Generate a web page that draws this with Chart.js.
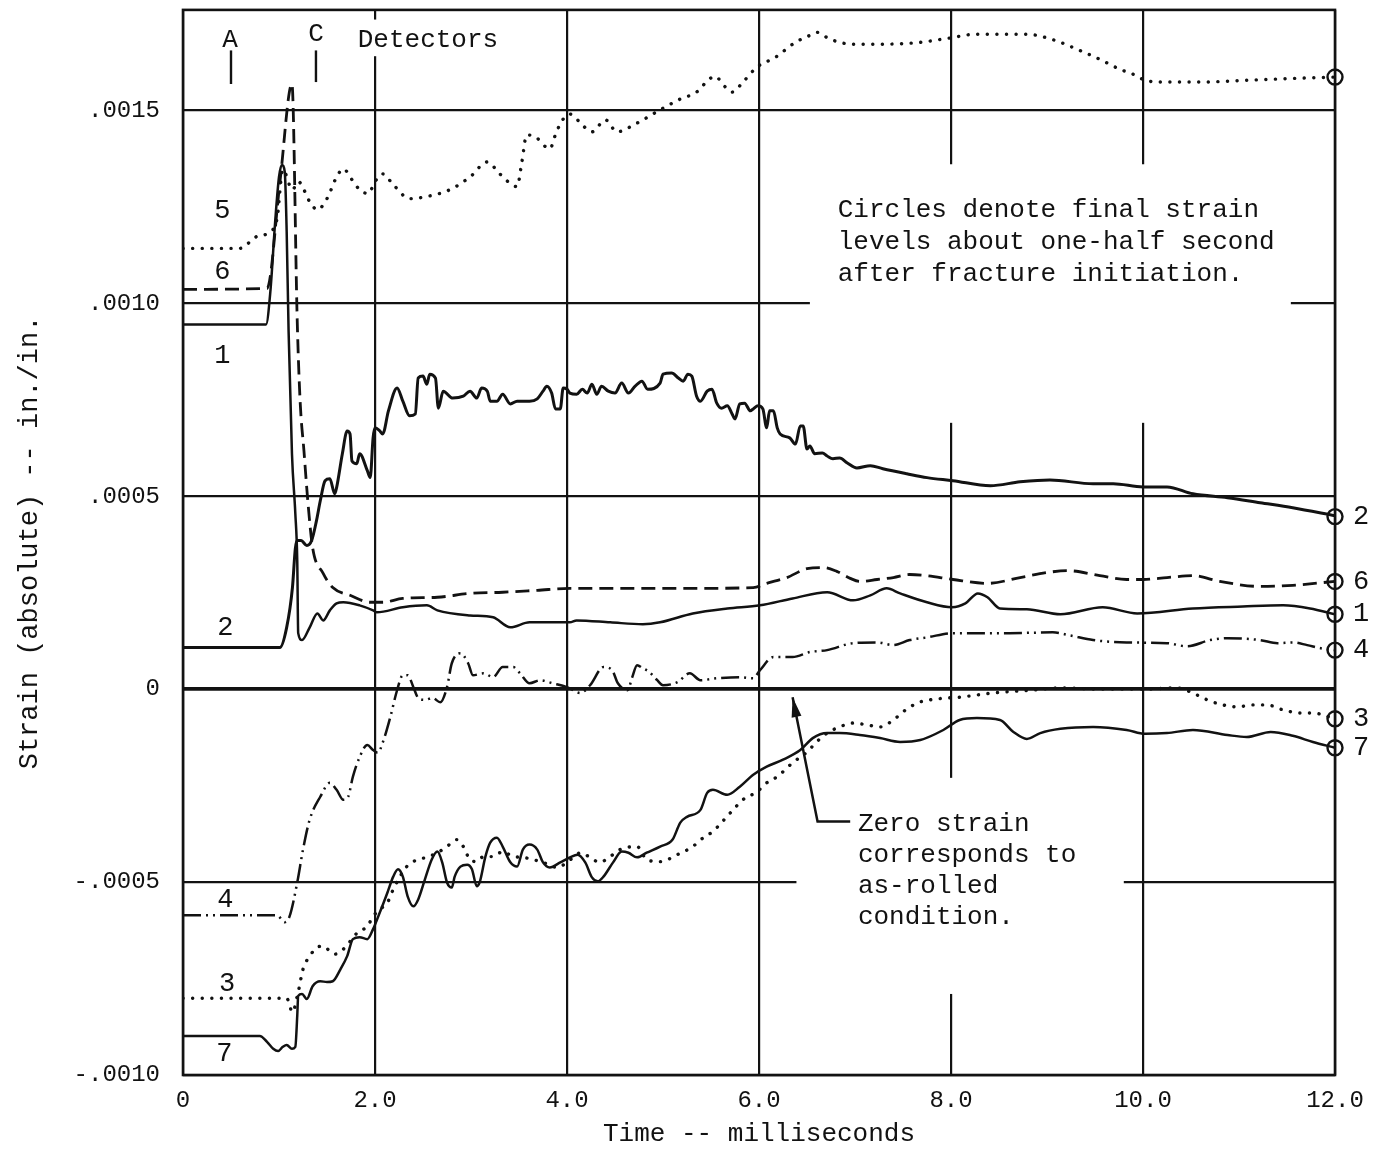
<!DOCTYPE html>
<html>
<head>
<meta charset="utf-8">
<title>Strain vs time</title>
<script src="https://cdn.jsdelivr.net/npm/chart.js@4.4.1/dist/chart.umd.min.js"></script>
<style>
  html, body { margin: 0; padding: 0; background: #fff; }
  canvas { display: block; }
</style>
</head>
<body>
<canvas id="strainChart" width="1373" height="1150"></canvas>
<script>
// Axis ticks
const xTickValues = [0, 2, 4, 6, 8, 10, 12];
const xTickLabels = ['0', '2.0', '4.0', '6.0', '8.0', '10.0', '12.0'];
const yTickValues = [-0.0010, -0.0005, 0, 0.0005, 0.0010, 0.0015];
const yTickLabels = ['-.0010', '-.0005', '0', '.0005', '.0010', '.0015'];

// Gauge records: [time (ms), strain (in./in.)]
const gauge1 = [[0,9.45e-4],[0.865,9.45e-4],[0.91,10.30e-4],[0.96,12.11e-4],[1.00,13.27e-4],[1.03,13.58e-4],[1.06,13.40e-4],[1.08,11.85e-4],[1.10,9.27e-4],[1.135,6.10e-4],[1.17,4.55e-4],[1.19,3.33e-4],[1.20,1.45e-4],[1.24,1.27e-4],[1.32,1.60e-4],[1.40,1.96e-4],[1.46,1.78e-4],[1.53,2.04e-4],[1.60,2.22e-4],[1.67,2.25e-4],[1.84,2.17e-4],[1.98,2.04e-4],[2.02,1.99e-4],[2.29,2.12e-4],[2.54,2.17e-4],[2.65,2.04e-4],[2.99,1.91e-4],[3.23,1.86e-4],[3.41,1.60e-4],[3.61,1.73e-4],[3.85,1.73e-4],[4.03,1.73e-4],[4.10,1.78e-4],[4.45,1.73e-4],[4.79,1.68e-4],[4.97,1.73e-4],[5.31,1.96e-4],[5.67,2.09e-4],[6.01,2.17e-4],[6.35,2.35e-4],[6.71,2.51e-4],[6.98,2.30e-4],[7.16,2.43e-4],[7.33,2.61e-4],[7.47,2.48e-4],[7.75,2.25e-4],[8.01,2.12e-4],[8.15,2.22e-4],[8.28,2.48e-4],[8.38,2.38e-4],[8.51,2.09e-4],[8.79,2.07e-4],[9.14,1.94e-4],[9.58,2.12e-4],[9.94,1.96e-4],[10.52,2.09e-4],[11.04,2.14e-4],[11.46,2.17e-4],[11.74,2.09e-4],[12.0,1.94e-4]];

const gauge2 = [[0,1.08e-4],[1.01,1.08e-4],[1.08,1.60e-4],[1.14,2.63e-4],[1.17,3.64e-4],[1.19,3.85e-4],[1.23,3.85e-4],[1.29,3.72e-4],[1.34,3.85e-4],[1.39,4.36e-4],[1.43,4.88e-4],[1.48,5.40e-4],[1.53,5.45e-4],[1.58,5.06e-4],[1.60,5.22e-4],[1.66,6.10e-4],[1.71,6.69e-4],[1.74,6.61e-4],[1.76,5.91e-4],[1.81,5.84e-4],[1.84,6.10e-4],[1.92,5.66e-4],[1.95,5.48e-4],[1.98,6.51e-4],[2.00,6.77e-4],[2.05,6.69e-4],[2.08,6.61e-4],[2.14,7.21e-4],[2.23,7.80e-4],[2.29,7.46e-4],[2.36,7.08e-4],[2.42,7.13e-4],[2.45,8.06e-4],[2.50,8.11e-4],[2.54,7.90e-4],[2.57,8.16e-4],[2.63,8.06e-4],[2.66,7.28e-4],[2.71,7.72e-4],[2.81,7.54e-4],[2.92,7.59e-4],[2.99,7.72e-4],[3.06,7.54e-4],[3.11,7.80e-4],[3.17,7.72e-4],[3.20,7.46e-4],[3.27,7.46e-4],[3.33,7.64e-4],[3.41,7.39e-4],[3.48,7.46e-4],[3.61,7.46e-4],[3.69,7.52e-4],[3.75,7.72e-4],[3.79,7.85e-4],[3.84,7.67e-4],[3.88,7.26e-4],[3.93,7.26e-4],[3.96,7.80e-4],[4.00,7.77e-4],[4.03,7.67e-4],[4.10,7.64e-4],[4.16,7.77e-4],[4.21,7.67e-4],[4.26,7.90e-4],[4.31,7.64e-4],[4.36,7.85e-4],[4.43,7.72e-4],[4.50,7.67e-4],[4.57,7.93e-4],[4.64,7.67e-4],[4.71,7.85e-4],[4.78,7.98e-4],[4.84,7.77e-4],[4.97,7.93e-4],[5.00,8.16e-4],[5.09,8.19e-4],[5.16,8.06e-4],[5.21,7.98e-4],[5.26,8.16e-4],[5.30,8.11e-4],[5.35,7.59e-4],[5.39,7.46e-4],[5.46,7.72e-4],[5.51,7.77e-4],[5.56,7.41e-4],[5.61,7.28e-4],[5.67,7.34e-4],[5.72,7.13e-4],[5.75,7.00e-4],[5.80,7.39e-4],[5.85,7.41e-4],[5.91,7.21e-4],[5.94,7.26e-4],[5.99,7.34e-4],[6.04,7.26e-4],[6.08,6.77e-4],[6.11,7.21e-4],[6.15,7.21e-4],[6.19,6.77e-4],[6.22,6.61e-4],[6.32,6.51e-4],[6.38,6.35e-4],[6.43,6.82e-4],[6.46,6.82e-4],[6.50,6.22e-4],[6.53,6.30e-4],[6.58,6.10e-4],[6.66,6.12e-4],[6.71,6.04e-4],[6.77,5.97e-4],[6.84,5.99e-4],[6.92,5.86e-4],[7.02,5.73e-4],[7.16,5.79e-4],[7.29,5.71e-4],[7.54,5.58e-4],[7.75,5.48e-4],[8.02,5.40e-4],[8.41,5.27e-4],[8.72,5.37e-4],[9.03,5.42e-4],[9.48,5.32e-4],[9.69,5.32e-4],[10.0,5.24e-4],[10.25,5.24e-4],[10.52,5.06e-4],[10.88,4.96e-4],[11.22,4.83e-4],[11.56,4.70e-4],[12.0,4.49e-4]];

const gauge3 = [[0,-8.01e-4],[1.08,-8.01e-4],[1.14,-8.37e-4],[1.20,-7.85e-4],[1.25,-7.26e-4],[1.32,-6.92e-4],[1.40,-6.69e-4],[1.46,-6.66e-4],[1.53,-6.79e-4],[1.58,-6.87e-4],[1.67,-6.74e-4],[1.76,-6.48e-4],[1.82,-6.30e-4],[1.92,-6.15e-4],[1.98,-5.89e-4],[2.05,-5.71e-4],[2.13,-5.53e-4],[2.19,-5.19e-4],[2.26,-4.86e-4],[2.33,-4.60e-4],[2.44,-4.42e-4],[2.54,-4.36e-4],[2.65,-4.24e-4],[2.75,-4.08e-4],[2.85,-3.90e-4],[2.92,-4.08e-4],[2.99,-4.42e-4],[3.06,-4.47e-4],[3.13,-4.34e-4],[3.23,-4.34e-4],[3.33,-4.21e-4],[3.44,-4.34e-4],[3.54,-4.36e-4],[3.65,-4.42e-4],[3.75,-4.49e-4],[3.90,-4.62e-4],[4.00,-4.49e-4],[4.10,-4.29e-4],[4.14,-4.24e-4],[4.24,-4.36e-4],[4.34,-4.49e-4],[4.45,-4.34e-4],[4.55,-4.16e-4],[4.73,-4.08e-4],[4.83,-4.42e-4],[4.97,-4.47e-4],[5.15,-4.29e-4],[5.31,-4.08e-4],[5.42,-3.85e-4],[5.52,-3.69e-4],[5.62,-3.43e-4],[5.73,-3.13e-4],[5.83,-2.87e-4],[5.98,-2.66e-4],[6.08,-2.43e-4],[6.19,-2.27e-4],[6.35,-1.91e-4],[6.50,-1.63e-4],[6.60,-1.37e-4],[6.71,-1.14e-4],[6.84,-0.98e-4],[6.98,-0.88e-4],[7.13,-0.93e-4],[7.26,-0.98e-4],[7.40,-0.80e-4],[7.50,-0.59e-4],[7.65,-0.36e-4],[7.78,-0.28e-4],[7.96,-0.23e-4],[8.09,-0.21e-4],[8.44,-0.10e-4],[8.82,-0.03e-4],[9.14,0.03e-4],[9.55,0],[10.0,0],[10.35,0.03e-4],[10.56,-0.15e-4],[10.67,-0.28e-4],[10.80,-0.39e-4],[10.98,-0.46e-4],[11.15,-0.41e-4],[11.29,-0.41e-4],[11.46,-0.54e-4],[11.64,-0.62e-4],[11.77,-0.62e-4],[12.0,-0.77e-4]];

const gauge4 = [[0,-5.86e-4],[0.98,-5.86e-4],[1.06,-6.04e-4],[1.11,-5.89e-4],[1.19,-5.01e-4],[1.25,-4.16e-4],[1.32,-3.38e-4],[1.43,-2.79e-4],[1.53,-2.43e-4],[1.60,-2.61e-4],[1.67,-2.87e-4],[1.72,-2.79e-4],[1.77,-2.27e-4],[1.84,-1.76e-4],[1.92,-1.45e-4],[1.98,-1.58e-4],[2.03,-1.65e-4],[2.08,-1.39e-4],[2.16,-0.72e-4],[2.23,-0.03e-4],[2.29,0.36e-4],[2.34,0.36e-4],[2.40,0.05e-4],[2.45,-0.23e-4],[2.52,-0.28e-4],[2.60,-0.23e-4],[2.68,-0.34e-4],[2.75,0.05e-4],[2.80,0.67e-4],[2.89,0.93e-4],[2.97,0.67e-4],[3.02,0.36e-4],[3.13,0.41e-4],[3.23,0.31e-4],[3.33,0.57e-4],[3.44,0.57e-4],[3.51,0.41e-4],[3.61,0.15e-4],[3.72,0.23e-4],[3.85,0.15e-4],[4.00,0.05e-4],[4.14,-0.10e-4],[4.24,0.10e-4],[4.38,0.57e-4],[4.47,0.49e-4],[4.53,0.15e-4],[4.63,-0.03e-4],[4.68,0.31e-4],[4.73,0.62e-4],[4.79,0.54e-4],[4.86,0.44e-4],[4.94,0.23e-4],[5.00,0.10e-4],[5.15,0.18e-4],[5.28,0.41e-4],[5.39,0.23e-4],[5.56,0.28e-4],[5.80,0.31e-4],[5.94,0.28e-4],[6.01,0.49e-4],[6.15,0.83e-4],[6.35,0.83e-4],[6.53,0.96e-4],[6.71,1.01e-4],[6.98,1.19e-4],[7.23,1.21e-4],[7.40,1.14e-4],[7.57,1.27e-4],[7.75,1.34e-4],[8.02,1.45e-4],[8.61,1.45e-4],[9.06,1.47e-4],[9.24,1.39e-4],[9.48,1.27e-4],[9.83,1.21e-4],[10.25,1.19e-4],[10.46,1.11e-4],[10.70,1.27e-4],[10.88,1.32e-4],[11.22,1.27e-4],[11.40,1.19e-4],[11.56,1.21e-4],[11.71,1.14e-4],[11.85,1.06e-4],[12.0,1.01e-4]];

const gauge5 = [[0,11.42e-4],[0.59,11.42e-4],[0.77,11.73e-4],[0.91,11.85e-4],[0.98,12.20e-4],[1.04,13.46e-4],[1.14,12.94e-4],[1.20,13.15e-4],[1.32,12.63e-4],[1.40,12.42e-4],[1.50,12.71e-4],[1.60,13.27e-4],[1.67,13.48e-4],[1.76,13.20e-4],[1.84,12.94e-4],[1.93,12.84e-4],[2.00,13.15e-4],[2.08,13.35e-4],[2.19,13.07e-4],[2.36,12.71e-4],[2.57,12.78e-4],[2.78,12.94e-4],[2.99,13.27e-4],[3.17,13.66e-4],[3.30,13.35e-4],[3.48,13.02e-4],[3.53,13.66e-4],[3.58,14.36e-4],[3.67,14.31e-4],[3.82,14.00e-4],[3.89,14.44e-4],[3.96,14.77e-4],[4.03,14.90e-4],[4.17,14.59e-4],[4.26,14.44e-4],[4.40,14.75e-4],[4.52,14.44e-4],[4.71,14.64e-4],[4.97,15.01e-4],[5.18,15.29e-4],[5.35,15.47e-4],[5.47,15.78e-4],[5.54,15.88e-4],[5.65,15.60e-4],[5.72,15.47e-4],[5.84,15.75e-4],[5.98,16.12e-4],[6.17,16.37e-4],[6.38,16.76e-4],[6.53,16.94e-4],[6.60,17.02e-4],[6.74,16.84e-4],[6.98,16.71e-4],[7.26,16.71e-4],[7.68,16.76e-4],[7.96,16.86e-4],[8.27,16.97e-4],[8.79,16.97e-4],[8.93,16.92e-4],[9.14,16.76e-4],[9.34,16.55e-4],[9.55,16.32e-4],[9.76,16.06e-4],[9.90,15.93e-4],[10.02,15.78e-4],[10.18,15.73e-4],[10.59,15.73e-4],[11.11,15.78e-4],[11.64,15.83e-4],[12.0,15.86e-4]];

const gauge6 = [[0,10.36e-4],[0.875,10.38e-4],[1.01,13.15e-4],[1.135,15.68e-4],[1.19,9.53e-4],[1.22,7.46e-4],[1.26,6.17e-4],[1.30,4.88e-4],[1.35,3.67e-4],[1.46,3.00e-4],[1.56,2.63e-4],[1.74,2.43e-4],[1.95,2.25e-4],[2.08,2.25e-4],[2.29,2.35e-4],[2.65,2.38e-4],[2.99,2.48e-4],[3.33,2.51e-4],[3.69,2.56e-4],[4.03,2.61e-4],[4.63,2.61e-4],[5.31,2.61e-4],[5.94,2.63e-4],[6.08,2.74e-4],[6.29,2.89e-4],[6.50,3.12e-4],[6.67,3.15e-4],[6.81,3.05e-4],[6.95,2.87e-4],[7.05,2.79e-4],[7.23,2.84e-4],[7.40,2.89e-4],[7.57,2.97e-4],[7.75,2.94e-4],[8.02,2.84e-4],[8.38,2.74e-4],[8.72,2.89e-4],[9.00,3.02e-4],[9.21,3.07e-4],[9.55,2.94e-4],[9.83,2.84e-4],[10.0,2.84e-4],[10.25,2.89e-4],[10.52,2.94e-4],[10.80,2.79e-4],[11.22,2.66e-4],[11.56,2.69e-4],[12.0,2.79e-4]];

const gauge7 = [[0,-8.99e-4],[0.80,-8.99e-4],[0.875,-9.14e-4],[0.94,-9.32e-4],[0.99,-9.38e-4],[1.04,-9.27e-4],[1.08,-9.22e-4],[1.135,-9.32e-4],[1.17,-9.27e-4],[1.19,-8.47e-4],[1.20,-7.95e-4],[1.24,-7.90e-4],[1.29,-8.03e-4],[1.35,-7.70e-4],[1.43,-7.57e-4],[1.50,-7.59e-4],[1.56,-7.57e-4],[1.64,-7.26e-4],[1.71,-6.92e-4],[1.77,-6.48e-4],[1.84,-6.43e-4],[1.92,-6.48e-4],[1.98,-6.22e-4],[2.05,-5.79e-4],[2.13,-5.27e-4],[2.19,-4.86e-4],[2.24,-4.67e-4],[2.29,-4.86e-4],[2.34,-5.37e-4],[2.40,-5.63e-4],[2.45,-5.45e-4],[2.52,-4.93e-4],[2.59,-4.42e-4],[2.65,-4.21e-4],[2.70,-4.49e-4],[2.75,-5.01e-4],[2.80,-5.14e-4],[2.83,-4.86e-4],[2.89,-4.60e-4],[2.96,-4.55e-4],[3.01,-4.67e-4],[3.06,-5.11e-4],[3.09,-5.01e-4],[3.15,-4.34e-4],[3.20,-3.98e-4],[3.27,-3.85e-4],[3.33,-4.08e-4],[3.41,-4.49e-4],[3.48,-4.60e-4],[3.54,-4.16e-4],[3.61,-4.03e-4],[3.69,-4.16e-4],[3.75,-4.49e-4],[3.82,-4.62e-4],[3.93,-4.49e-4],[4.03,-4.36e-4],[4.11,-4.29e-4],[4.19,-4.49e-4],[4.26,-4.88e-4],[4.32,-4.98e-4],[4.38,-4.86e-4],[4.48,-4.49e-4],[4.57,-4.21e-4],[4.64,-4.24e-4],[4.73,-4.36e-4],[4.83,-4.24e-4],[4.97,-4.08e-4],[5.10,-3.90e-4],[5.18,-3.46e-4],[5.25,-3.31e-4],[5.39,-3.13e-4],[5.46,-2.69e-4],[5.52,-2.61e-4],[5.67,-2.74e-4],[5.80,-2.53e-4],[5.94,-2.22e-4],[6.08,-2.01e-4],[6.25,-1.83e-4],[6.43,-1.58e-4],[6.56,-1.27e-4],[6.71,-1.14e-4],[6.84,-1.14e-4],[7.05,-1.19e-4],[7.26,-1.27e-4],[7.47,-1.37e-4],[7.68,-1.32e-4],[7.92,-1.06e-4],[8.09,-0.80e-4],[8.27,-0.75e-4],[8.51,-0.80e-4],[8.65,-1.11e-4],[8.79,-1.29e-4],[8.93,-1.14e-4],[9.14,-1.03e-4],[9.48,-0.98e-4],[9.83,-1.06e-4],[10.02,-1.16e-4],[10.25,-1.14e-4],[10.52,-1.06e-4],[10.88,-1.19e-4],[11.08,-1.24e-4],[11.33,-1.11e-4],[11.56,-1.21e-4],[11.77,-1.37e-4],[12.0,-1.52e-4]];

// Final strain levels (about 0.5 s after fracture initiation), plotted at 12.0 ms
const finalGauges = ['5', '2', '6', '1', '4', '3', '7'];
const finalStrain = [15.86e-4, 4.47e-4, 2.79e-4, 1.94e-4, 1.01e-4, -0.77e-4, -1.52e-4];

const INK = '#121212';
const MONO = '"Liberation Mono", "DejaVu Sans Mono", monospace';

// Line style per gauge
const traces = [
  { id: '5', points: gauge5, width: 3.4, dash: [0.1, 9.5], cap: 'round' },
  { id: '6', points: gauge6, width: 2.8, dash: [14, 7], cap: 'butt' },
  { id: '1', points: gauge1, width: 2.5, dash: [], cap: 'butt' },
  { id: '2', points: gauge2, width: 3.0, dash: [], cap: 'butt' },
  { id: '4', points: gauge4, width: 2.5, dash: [18, 5, 2, 5, 2, 5], cap: 'butt' },
  { id: '3', points: gauge3, width: 3.4, dash: [0.1, 9.5], cap: 'round' },
  { id: '7', points: gauge7, width: 2.5, dash: [], cap: 'butt' }
];

// Annotation layout (anchored in data coordinates)
const notes = {
  gridGaps: [
    { x0: 6.53, x1: 11.54, y0: 6.9e-4, y1: 13.6e-4 },
    { x0: 6.39, x1: 9.80, y0: -7.9e-4, y1: -2.3e-4 },
    { x0: 1.80, x1: 2.20, y0: 16.4e-4, y1: 17.35e-4 }
  ],
  leftLabels: [
    { text: '5', x: 0.41, y: 12.40e-4 },
    { text: '6', x: 0.41, y: 10.82e-4 },
    { text: '1', x: 0.41, y: 8.63e-4 },
    { text: '2', x: 0.44, y: 1.58e-4 },
    { text: '4', x: 0.44, y: -5.45e-4 },
    { text: '3', x: 0.46, y: -7.64e-4 },
    { text: '7', x: 0.43, y: -9.45e-4 }
  ],
  rightLabelGauges: ['2', '6', '1', '4', '3', '7'],
  blocks: [
    { x: 6.82, y: 12.40e-4, step: 32,
      lines: ['Circles denote final strain', 'levels about one-half second', 'after fracture initiation.'] },
    { x: 7.03, y: -3.51e-4, step: 31,
      lines: ['Zero strain', 'corresponds to', 'as-rolled', 'condition.'] }
  ],
  detectors: [
    { text: 'A', x: 0.49, y: 16.81e-4, tick: [0.50, 16.55e-4, 15.68e-4] },
    { text: 'C', x: 1.385, y: 16.97e-4, tick: [1.385, 16.55e-4, 15.73e-4] }
  ],
  detectorsTitle: { text: 'Detectors', x: 1.82, y: 16.81e-4 },
  zeroArrow: [[6.95, -3.43e-4], [6.61, -3.43e-4], [6.35, -0.21e-4]]
};

const datasets = traces.map(tr => ({
  label: 'Gauge ' + tr.id,
  data: tr.points.map(([x, y]) => ({ x, y })),
  borderColor: INK,
  borderWidth: tr.width,
  borderDash: tr.dash,
  borderCapStyle: tr.cap,
  pointRadius: 0,
  fill: false,
  cubicInterpolationMode: 'monotone'
}));

datasets.push({
  label: 'Final strain',
  data: finalStrain.map(v => ({ x: 12, y: v })),
  showLine: false,
  pointRadius: 7.5,
  pointBorderWidth: 2.4,
  pointBorderColor: INK,
  pointBackgroundColor: 'rgba(0,0,0,0)',
  clip: false
});

const annotationPlugin = {
  id: 'figureNotes',
  beforeDatasetsDraw(chart) {
    const { ctx, scales: { x, y } } = chart;
    ctx.save();
    ctx.fillStyle = '#fff';
    notes.gridGaps.forEach(g => {
      const l = x.getPixelForValue(g.x0), r = x.getPixelForValue(g.x1);
      const t = y.getPixelForValue(g.y1), b = y.getPixelForValue(g.y0);
      ctx.fillRect(l, t, r - l, b - t);
    });
    ctx.restore();
  },
  afterDatasetsDraw(chart) {
    const { ctx, chartArea: a, scales: { x, y } } = chart;
    const px = v => x.getPixelForValue(v);
    const py = v => y.getPixelForValue(v);
    ctx.save();
    // frame
    ctx.strokeStyle = INK;
    ctx.lineWidth = 2.6;
    ctx.setLineDash([]);
    ctx.strokeRect(a.left, a.top, a.right - a.left, a.bottom - a.top);

    ctx.fillStyle = INK;
    ctx.textBaseline = 'middle';
    ctx.font = '27px ' + MONO;

    // gauge numbers at trace starts
    ctx.textAlign = 'center';
    notes.leftLabels.forEach(l => ctx.fillText(l.text, px(l.x), py(l.y)));

    // gauge numbers beside the final-strain circles
    ctx.textAlign = 'left';
    notes.rightLabelGauges.forEach(g => {
      const i = finalGauges.indexOf(g);
      ctx.fillText(g, px(12) + 18, py(finalStrain[i]));
    });

    // text blocks
    ctx.font = '26px ' + MONO;
    notes.blocks.forEach(b => {
      b.lines.forEach((line, i) => ctx.fillText(line, px(b.x), py(b.y) + i * b.step));
    });

    // detector marks
    ctx.lineWidth = 2.4;
    notes.detectors.forEach(d => {
      ctx.textAlign = 'center';
      ctx.fillText(d.text, px(d.x), py(d.y));
      const [tx, ty0, ty1] = d.tick;
      ctx.beginPath();
      ctx.moveTo(px(tx), py(ty0));
      ctx.lineTo(px(tx), py(ty1));
      ctx.stroke();
    });
    ctx.textAlign = 'left';
    ctx.fillText(notes.detectorsTitle.text, px(notes.detectorsTitle.x), py(notes.detectorsTitle.y));

    // leader arrow to the zero-strain line
    const pts = notes.zeroArrow.map(([vx, vy]) => [px(vx), py(vy)]);
    ctx.lineWidth = 2.5;
    ctx.beginPath();
    ctx.moveTo(pts[0][0], pts[0][1]);
    for (let i = 1; i < pts.length; i++) ctx.lineTo(pts[i][0], pts[i][1]);
    ctx.stroke();
    const [bx, by] = pts[pts.length - 2];
    const [hx, hy] = pts[pts.length - 1];
    const ang = Math.atan2(hy - by, hx - bx);
    const len = 20, half = 5;
    ctx.beginPath();
    ctx.moveTo(hx, hy);
    ctx.lineTo(hx - len * Math.cos(ang) + half * Math.sin(ang), hy - len * Math.sin(ang) - half * Math.cos(ang));
    ctx.lineTo(hx - len * Math.cos(ang) - half * Math.sin(ang), hy - len * Math.sin(ang) + half * Math.cos(ang));
    ctx.closePath();
    ctx.fill();
    ctx.restore();
  }
};

new Chart(document.getElementById('strainChart'), {
  type: 'line',
  data: { datasets },
  options: {
    responsive: false,
    animation: false,
    events: [],
    layout: { padding: { top: 8, right: 38, bottom: 0, left: 0 } },
    plugins: { legend: { display: false }, tooltip: { enabled: false } },
    scales: {
      x: {
        type: 'linear',
        min: 0,
        max: 12,
        afterBuildTicks: s => { s.ticks = xTickValues.map(v => ({ value: v })); },
        afterFit: s => { s.height = 75; s.paddingLeft = 0; s.paddingRight = 0; },
        grid: { color: INK, lineWidth: 2.2, drawTicks: false },
        border: { display: false },
        ticks: {
          autoSkip: false,
          maxRotation: 0,
          padding: 11,
          color: INK,
          font: { family: MONO, size: 24 },
          callback: (v, i) => xTickLabels[i]
        },
        title: {
          display: true,
          text: 'Time -- milliseconds',
          color: INK,
          font: { family: MONO, size: 26 },
          padding: { top: 0, bottom: 0 }
        }
      },
      y: {
        type: 'linear',
        min: -0.0010,
        max: 0.00176,
        afterBuildTicks: s => { s.ticks = yTickValues.map(v => ({ value: v })); },
        afterFit: s => { s.width = 183; s.paddingTop = 0; s.paddingBottom = 0; },
        grid: {
          color: INK,
          lineWidth: c => (c.tick && c.tick.value === 0 ? 3.8 : 2.2),
          drawTicks: false
        },
        border: { display: false },
        ticks: {
          padding: 23,
          color: INK,
          font: { family: MONO, size: 24 },
          callback: (v, i) => yTickLabels[i]
        },
        title: {
          display: true,
          text: 'Strain (absolute) -- in./in.',
          color: INK,
          font: { family: MONO, size: 27 },
          padding: { top: 14, bottom: 0 }
        }
      }
    }
  },
  plugins: [annotationPlugin]
});
</script>
</body>
</html>
